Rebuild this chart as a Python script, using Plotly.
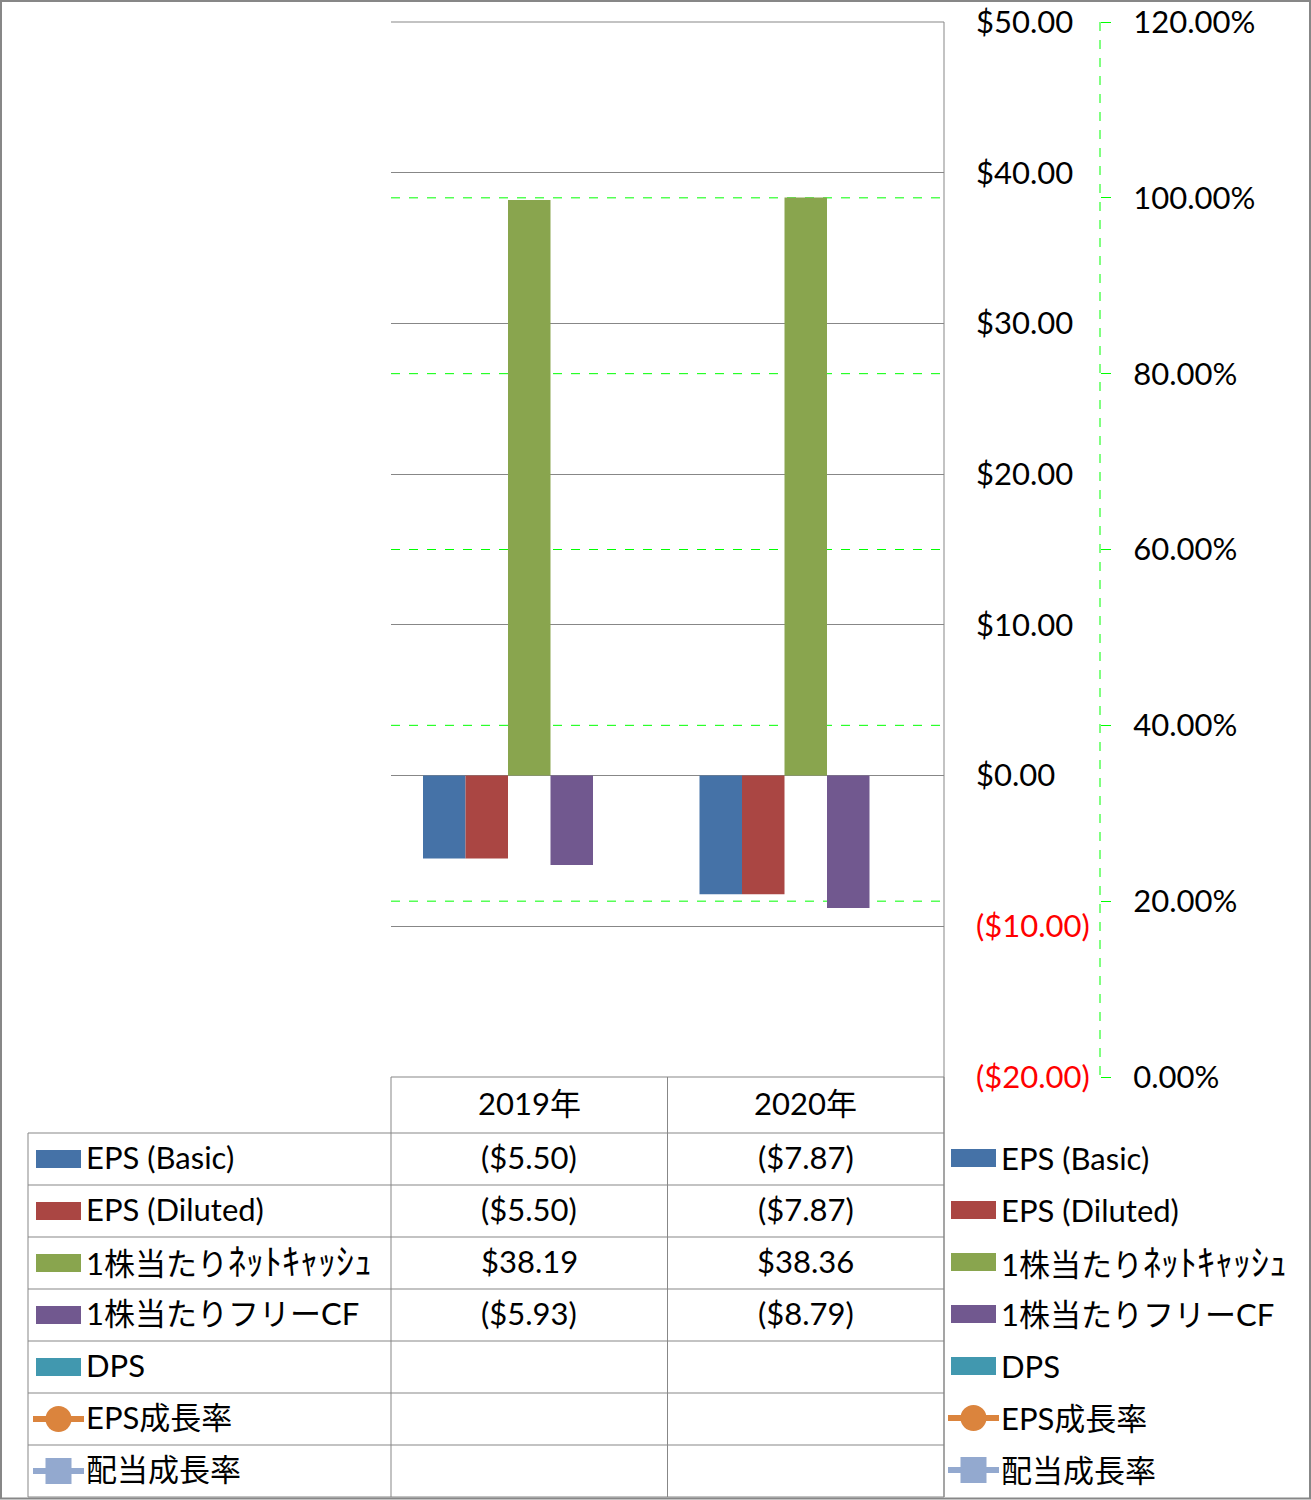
import plotly.graph_objects as go

W, H = 1311, 1500

# ---------------- data ----------------
categories = ["2019年", "2020年"]
eps_basic = [-5.50, -7.87]
eps_diluted = [-5.50, -7.87]
net_cash_ps = [38.19, 38.36]
free_cf_ps = [-5.93, -8.79]
dps = [None, None]
eps_growth = [None, None]
div_growth = [None, None]

series_names = ["EPS (Basic)", "EPS (Diluted)", "1株当たりﾈｯﾄｷｬｯｼｭ", "1株当たりフリーCF",
                "DPS", "EPS成長率", "配当成長率"]
series_values = [eps_basic, eps_diluted, net_cash_ps, free_cf_ps, dps, eps_growth, div_growth]
series_kinds = ["bar", "bar", "bar", "bar", "bar", "line_circle", "line_square"]
series_colors = ["#4572A7", "#AA4643", "#89A54E", "#71588F", "#4198AF", "#DB843D", "#93A9CF"]

left_tickvals = [-20, -10, 0, 10, 20, 30, 40, 50]
right_tickvals = [0, 0.2, 0.4, 0.6, 0.8, 1.0, 1.2]

FONT = "Lato, 'Noto Sans CJK JP', sans-serif"
FS = 31
GRAY = "#878787"
GREEN = "#00FF00"


def X(px):
    return px / W


def Y(py):
    return 1 - py / H


def money(v):
    if v is None:
        return ""
    if v < 0:
        return "(${:.2f})".format(-v)
    return "${:.2f}".format(v)


def left_label(v):
    s = money(v)
    if v < 0:
        return "<span style='color:red'>" + s + "</span>"
    return s


def styled_name(s):
    # half-width katakana are rendered a little larger to match the reference's wide half-width glyphs
    out, run = [], ""
    for ch in s:
        if 0xFF61 <= ord(ch) <= 0xFF9F:
            run += ch
        else:
            if run:
                out.append("<span style='font-size:36px'>" + run + "</span>")
                run = ""
            out.append(ch)
    if run:
        out.append("<span style='font-size:36px'>" + run + "</span>")
    return "".join(out)


fig = go.Figure()

for name, vals, kind, col in zip(series_names, series_values, series_kinds, series_colors):
    if kind == "bar":
        fig.add_trace(go.Bar(x=categories, y=vals, name=name, marker_color=col,
                             marker_line_width=0, showlegend=False))
    else:
        fig.add_trace(go.Scatter(x=categories, y=vals, name=name, yaxis="y2",
                                 mode="lines+markers", line=dict(color=col, width=5),
                                 marker=dict(color=col, size=16,
                                             symbol="circle" if kind == "line_circle" else "square"),
                                 showlegend=False))

PL, PR, PT, PB = 391, 944, 22, 1077

shapes = []
annotations = []

# secondary-axis gridlines (green dashed), drawn beneath the bars on the y2 scale
for v in right_tickvals[1:-1]:
    shapes.append(dict(type="line", xref="paper", yref="y2", x0=X(PL), x1=X(PR), y0=v, y1=v,
                       layer="below", line=dict(color=GREEN, width=1, dash="dash")))

# plot border lines (top + right) and table grid
shapes.append(dict(type="line", xref="paper", yref="paper", x0=X(PL), x1=X(PR), y0=Y(PT), y1=Y(PT),
                   line=dict(color=GRAY, width=1)))
shapes.append(dict(type="line", xref="paper", yref="paper", x0=X(PR), x1=X(PR), y0=Y(PT), y1=Y(1497),
                   line=dict(color=GRAY, width=1)))
# secondary axis dashed line
shapes.append(dict(type="line", xref="paper", yref="paper", x0=X(1100), x1=X(1100), y0=Y(PT), y1=Y(PB),
                   line=dict(color=GREEN, width=1, dash="dash")))

row_top = 1133
row_h = 52.0
n_rows = len(series_names)
table_bottom = row_top + n_rows * row_h

# header top
shapes.append(dict(type="line", xref="paper", yref="paper", x0=X(PL), x1=X(PR), y0=Y(PB), y1=Y(PB),
                   line=dict(color=GRAY, width=1)))
for i in range(n_rows + 1):
    yy = row_top + i * row_h
    shapes.append(dict(type="line", xref="paper", yref="paper", x0=X(28), x1=X(PR), y0=Y(yy), y1=Y(yy),
                       line=dict(color=GRAY, width=1)))
col_w = (PR - PL) / len(categories)
for j in range(len(categories) + 1):
    xx = PL + j * col_w
    shapes.append(dict(type="line", xref="paper", yref="paper", x0=X(xx), x1=X(xx), y0=Y(PB),
                       y1=Y(table_bottom), line=dict(color=GRAY, width=1)))
shapes.append(dict(type="line", xref="paper", yref="paper", x0=X(28), x1=X(28), y0=Y(row_top),
                   y1=Y(table_bottom), line=dict(color=GRAY, width=1)))

# outer border
shapes.append(dict(type="rect", xref="paper", yref="paper", x0=X(1), x1=X(1310), y0=Y(1), y1=Y(1498.5),
                   line=dict(color=GRAY, width=2)))

# header labels
for j, c in enumerate(categories):
    annotations.append(dict(xref="paper", yref="paper", x=X(PL + (j + 0.5) * col_w), y=Y(1103),
                            text=c, showarrow=False, xanchor="center", yanchor="middle",
                            font=dict(size=FS, color="black", family=FONT)))


def legend_symbol(x0, cy, kind, col):
    if kind == "bar":
        shapes.append(dict(type="rect", xref="paper", yref="paper", x0=X(x0), x1=X(x0 + 45),
                           y0=Y(cy - 9), y1=Y(cy + 9), line=dict(width=0), fillcolor=col))
    else:
        shapes.append(dict(type="line", xref="paper", yref="paper", x0=X(x0 - 3), x1=X(x0 + 48),
                           y0=Y(cy), y1=Y(cy), line=dict(color=col, width=6)))
        cx = x0 + 22.5
        r = 13
        shapes.append(dict(type="circle" if kind == "line_circle" else "rect", xref="paper", yref="paper",
                           x0=X(cx - r), x1=X(cx + r), y0=Y(cy - r), y1=Y(cy + r),
                           line=dict(width=0), fillcolor=col))


for i, (name, vals, kind, col) in enumerate(zip(series_names, series_values, series_kinds, series_colors)):
    cy = row_top + (i + 0.5) * row_h
    legend_symbol(36, cy, kind, col)
    annotations.append(dict(xref="paper", yref="paper", x=X(84), y=Y(cy - 2), text=styled_name(name),
                            showarrow=False, xanchor="left", yanchor="middle",
                            font=dict(size=FS, color="black", family=FONT)))
    for j, v in enumerate(vals):
        t = money(v) if kind == "bar" else ""
        if t:
            annotations.append(dict(xref="paper", yref="paper", x=X(PL + (j + 0.5) * col_w), y=Y(cy - 2),
                                    text=t, showarrow=False, xanchor="center", yanchor="middle",
                                    font=dict(size=FS, color="black", family=FONT)))
    # right legend
    cy2 = 1158 + i * 52
    legend_symbol(951, cy2, kind, col)
    annotations.append(dict(xref="paper", yref="paper", x=X(999), y=Y(cy2), text=styled_name(name),
                            showarrow=False, xanchor="left", yanchor="middle",
                            font=dict(size=FS, color="black", family=FONT)))

fig.update_layout(
    template="none",
    width=W, height=H,
    margin=dict(l=0, r=0, t=0, b=0, pad=0, autoexpand=False),
    paper_bgcolor="white", plot_bgcolor="white",
    barmode="group", bargap=0.2315, bargroupgap=0,
    showlegend=False,
    font=dict(family=FONT, size=FS, color="black"),
    xaxis=dict(domain=[X(PL), X(PR)], showticklabels=False, showgrid=False, zeroline=False,
               showline=False, ticks="", range=[-0.5, 1.5], automargin=False),
    yaxis=dict(domain=[Y(PB), Y(PT)], range=[-20, 50], side="right", tickvals=left_tickvals,
               ticktext=[left_label(v) for v in left_tickvals], showgrid=True, gridcolor=GRAY,
               gridwidth=1, zeroline=True, zerolinecolor=GRAY, zerolinewidth=1, showline=False,
               ticks="", ticklabelstandoff=31, automargin=False,
               tickfont=dict(size=FS, family=FONT, color="black")),
    yaxis2=dict(overlaying="y", side="right", anchor="free", position=X(1100), range=[0, 1.2],
                tickvals=right_tickvals, tickformat=".2%", showgrid=False, zeroline=False,
                showline=False, ticks="outside",
                ticklen=10, tickcolor=GREEN, tickwidth=1, ticklabelstandoff=16, automargin=False,
                tickfont=dict(size=FS, family=FONT, color="black")),
    shapes=shapes,
    annotations=annotations,
)

fig.write_html("out.html")
